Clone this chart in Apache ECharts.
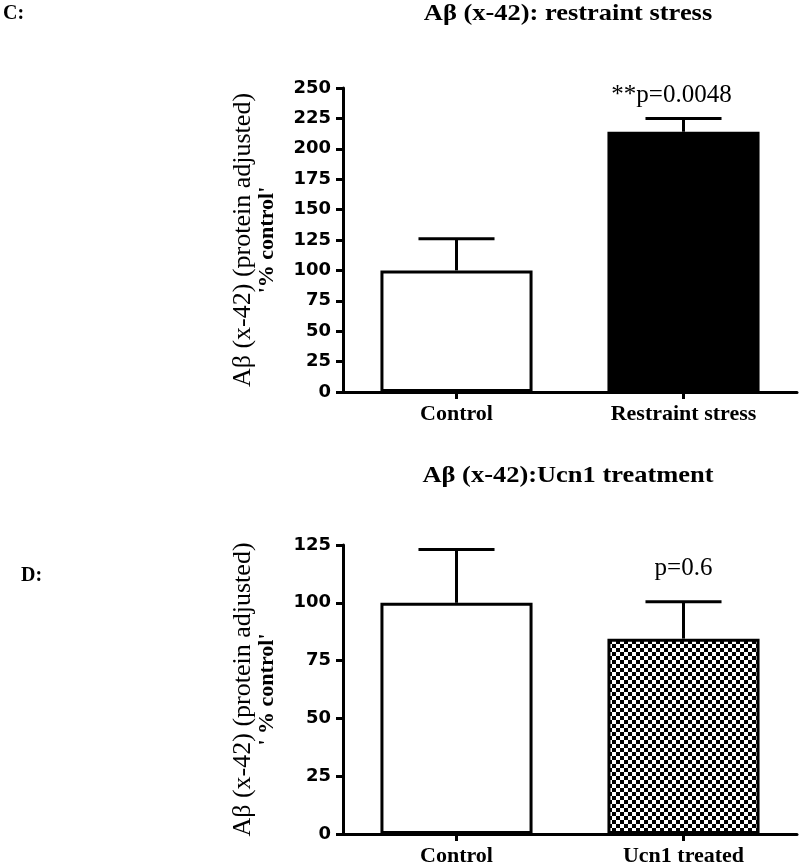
<!DOCTYPE html>
<html>
<head>
<meta charset="utf-8">
<script src="https://cdn.jsdelivr.net/npm/echarts@6/dist/echarts.min.js"></script>
<style>html,body{margin:0;padding:0;background:#fff;}#c{width:800px;height:867px;}</style>
</head>
<body>
<div id="c"></div>
<script>
// ---- data ----
const catsC = ['Control', 'Restraint stress'];
const meanC = [100, 214];
const errC = [26, 11];
const annC = ['', '**p=0.0048'];

const catsD = ['Control', 'Ucn1 treated'];
const meanD = [100, 84.5];
const errD = [23, 16];
const annD = ['', 'p=0.6'];

const ticksC = { min: 0, max: 250, interval: 25 };
const ticksD = { min: 0, max: 125, interval: 25 };

// ---- styles ----
const checker = (function () {
  const cv = document.createElement('canvas');
  cv.width = 8; cv.height = 8;
  const g = cv.getContext('2d');
  g.fillStyle = '#fff'; g.fillRect(0, 0, 8, 8);
  g.fillStyle = '#000'; g.fillRect(0, 0, 4, 4); g.fillRect(4, 4, 4, 4);
  return cv;
})();

const serif = '"Liberation Serif", "Times New Roman", serif';
const sans = '"DejaVu Sans", sans-serif';

function yAxisCfg(gi, t, ctrlSpace) {
  return {
    type: 'value', gridIndex: gi, min: t.min, max: t.max, interval: t.interval,
    axisLine: { show: true, lineStyle: { color: '#000', width: 3 } },
    axisTick: { show: true, length: 7, lineStyle: { color: '#000', width: 3 } },
    axisLabel: { color: '#000', fontFamily: sans, fontWeight: 'bold', fontSize: 18, margin: 12 },
    splitLine: { show: false },
    name: '{a|Aβ (x-42) (protein adjusted)}\n{b|' + ctrlSpace + '}',
    nameLocation: 'middle', nameRotate: 90, nameGap: 64,
    nameTextStyle: {
      rich: {
        a: { fontFamily: serif, fontSize: 26, color: '#000', lineHeight: 24 },
        b: { fontFamily: serif, fontSize: 22, fontWeight: 'bold', color: '#000', lineHeight: 24 }
      }
    }
  };
}
function xAxisCfg(gi, cats) {
  return {
    type: 'category', gridIndex: gi, data: cats,
    axisLine: { show: true, lineStyle: { color: '#000', width: 3 } },
    axisTick: { show: true, alignWithLabel: true, length: 7, lineStyle: { color: '#000', width: 3 } },
    axisLabel: { color: '#000', fontFamily: serif, fontWeight: 'bold', fontSize: 22, margin: 11 }
  };
}
function errSeries(gi, means, errs, anns, dy, dx) {
  return {
    type: 'custom', xAxisIndex: gi, yAxisIndex: gi, z: 5,
    data: means.map((m, i) => [i, m, errs[i]]),
    renderItem: function (params, api) {
      const i = api.value(0), m = api.value(1), e = api.value(2);
      const b = api.coord([i, m]);
      const t = api.coord([i, m + e]);
      const bw = api.size([1, 0])[0] * 0.67;
      const half = bw * 0.25;
      const st = { stroke: '#000', lineWidth: 3 };
      const children = [
        { type: 'line', shape: { x1: b[0], y1: b[1], x2: t[0], y2: t[1] }, style: st },
        { type: 'line', shape: { x1: t[0] - half, y1: t[1], x2: t[0] + half, y2: t[1] }, style: st }
      ];
      const txt = anns[params.dataIndex];
      if (txt) {
        children.push({
          type: 'text', x: t[0] + dx, y: t[1] - dy,
          style: { text: txt, font: '25px ' + serif, fill: '#000', align: 'center', verticalAlign: 'middle' }
        });
      }
      return { type: 'group', children: children };
    }
  };
}
function barSeries(gi, means, fills) {
  return {
    type: 'bar', xAxisIndex: gi, yAxisIndex: gi, barWidth: '67%', z: 3,
    data: means.map((m, i) => ({ value: m, itemStyle: { color: fills[i], borderColor: '#000', borderWidth: 3 } }))
  };
}

function titleText(txt, x, y, sx) {
  return {
    type: 'text', x: x, y: y, scaleX: sx,
    style: { text: txt, font: 'bold 23px ' + serif, fill: '#000', align: 'center', verticalAlign: 'middle' }
  };
}

const chart = echarts.init(document.getElementById('c'), null, { renderer: 'canvas' });
chart.setOption({
  backgroundColor: '#fff',
  animation: false,
  grid: [
    { left: 343, top: 88, width: 454, height: 304 },
    { left: 343, top: 545, width: 454, height: 290 }
  ],
  xAxis: [xAxisCfg(0, catsC), xAxisCfg(1, catsD)],
  yAxis: [yAxisCfg(0, ticksC, "'% control'"), yAxisCfg(1, ticksD, "' % control'")],
  series: [
    barSeries(0, meanC, ['#fff', '#000']),
    errSeries(0, meanC, errC, annC, 23, -12),
    barSeries(1, meanD, ['#fff', { image: checker, repeat: 'repeat' }]),
    errSeries(1, meanD, errD, annD, 33, 0)
  ],
  graphic: [
    titleText('Aβ (x-42): restraint stress', 568, 14, 1.15),
    titleText('Aβ (x-42):Ucn1 treatment', 568, 476, 1.15),
    { type: 'text', x: 3, y: 14, style: { text: 'C:', font: 'bold 20px ' + serif, fill: '#000', align: 'left', verticalAlign: 'middle' } },
    { type: 'text', x: 21, y: 576, style: { text: 'D:', font: 'bold 20px ' + serif, fill: '#000', align: 'left', verticalAlign: 'middle' } }
  ]
});
</script>
</body>
</html>
